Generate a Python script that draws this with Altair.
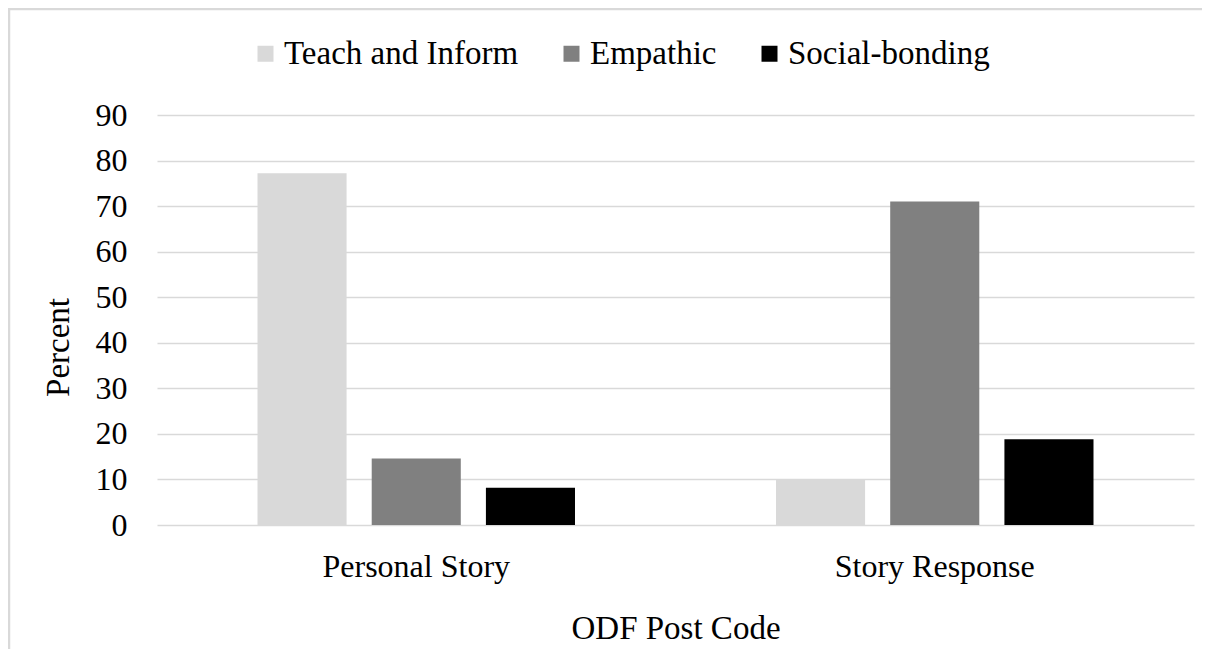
import altair as alt
import pandas as pd

codes = ["Personal Story", "Story Response"]
series = ["Teach and Inform", "Empathic", "Social-bonding"]
teach = [77.2, 10.0]
empathic = [14.6, 71.0]
social = [8.2, 18.8]
colors = ["#d9d9d9", "#808080", "#000000"]
y_ticks = [0, 10, 20, 30, 40, 50, 60, 70, 80, 90]

rows = []
for i, c in enumerate(codes):
    for s, vals in zip(series, [teach, empathic, social]):
        rows.append({"code": c, "series": s, "value": vals[i]})
df = pd.DataFrame(rows)

FONT = "Liberation Serif"
W, H = 1037, 410

bars = alt.Chart(df).mark_bar().encode(
    x=alt.X("code:N", sort=codes, scale=alt.Scale(paddingInner=0, paddingOuter=0),
            axis=alt.Axis(title="ODF Post Code", labelAngle=0, labelPadding=26,
                          labelLimit=0,
                          ticks=False, domain=False, grid=False,
                          labelFontSize=32, titleFontSize=33,
                          titleY=113, titleBaseline="alphabetic",
                          titleFontWeight="normal")),
    xOffset=alt.XOffset("series:N", sort=series,
                        scale=alt.Scale(paddingInner=0.22, paddingOuter=0.88)),
    y=alt.Y("value:Q", scale=alt.Scale(domain=[0, 90], nice=False),
            axis=alt.Axis(title="Percent", values=y_ticks, ticks=False, domain=False,
                          gridColor="#d9d9d9", gridWidth=1.5,
                          labelFontSize=32, labelPadding=30,
                          titleFontSize=33, titleFontWeight="normal",
                          titleAngle=270, titleX=-89, titleY=232,
                          titleAlign="center", titleBaseline="alphabetic")),
    color=alt.Color("series:N", sort=series,
                    scale=alt.Scale(domain=series, range=colors),
                    legend=alt.Legend(title=None, orient="none", legendX=92, legendY=-78,
                                      direction="horizontal", symbolType="square",
                                      symbolSize=256, symbolStrokeWidth=0,
                                      labelFontSize=33, labelOffset=2,
                                      columnPadding=36, padding=0, labelLimit=0)),
)

border_data = alt.Data(values=[{"k": 1}])
left_border = alt.Chart(border_data).mark_rule(color="#d9d9d9", strokeWidth=2.5).encode(
    x=alt.value(-148), y=alt.value(-110), y2=alt.value(H + 200))
top_border = alt.Chart(border_data).mark_rule(color="#d9d9d9", strokeWidth=2.5).encode(
    x=alt.value(-150), x2=alt.value(W + 200), y=alt.value(-106))

chart = alt.layer(bars, left_border, top_border).properties(
    width=W, height=H,
    autosize=alt.AutoSizeParams(type="none"),
    padding={"left": 149, "top": 107, "right": 8, "bottom": 124},
).configure(
    font=FONT,
).configure_axis(
    labelFont=FONT, titleFont=FONT, labelColor="#000000", titleColor="#000000",
).configure_legend(
    labelFont=FONT, labelColor="#000000",
).configure_view(stroke=None)

chart.save("out.html", embed_options={"renderer": "svg", "actions": False})
